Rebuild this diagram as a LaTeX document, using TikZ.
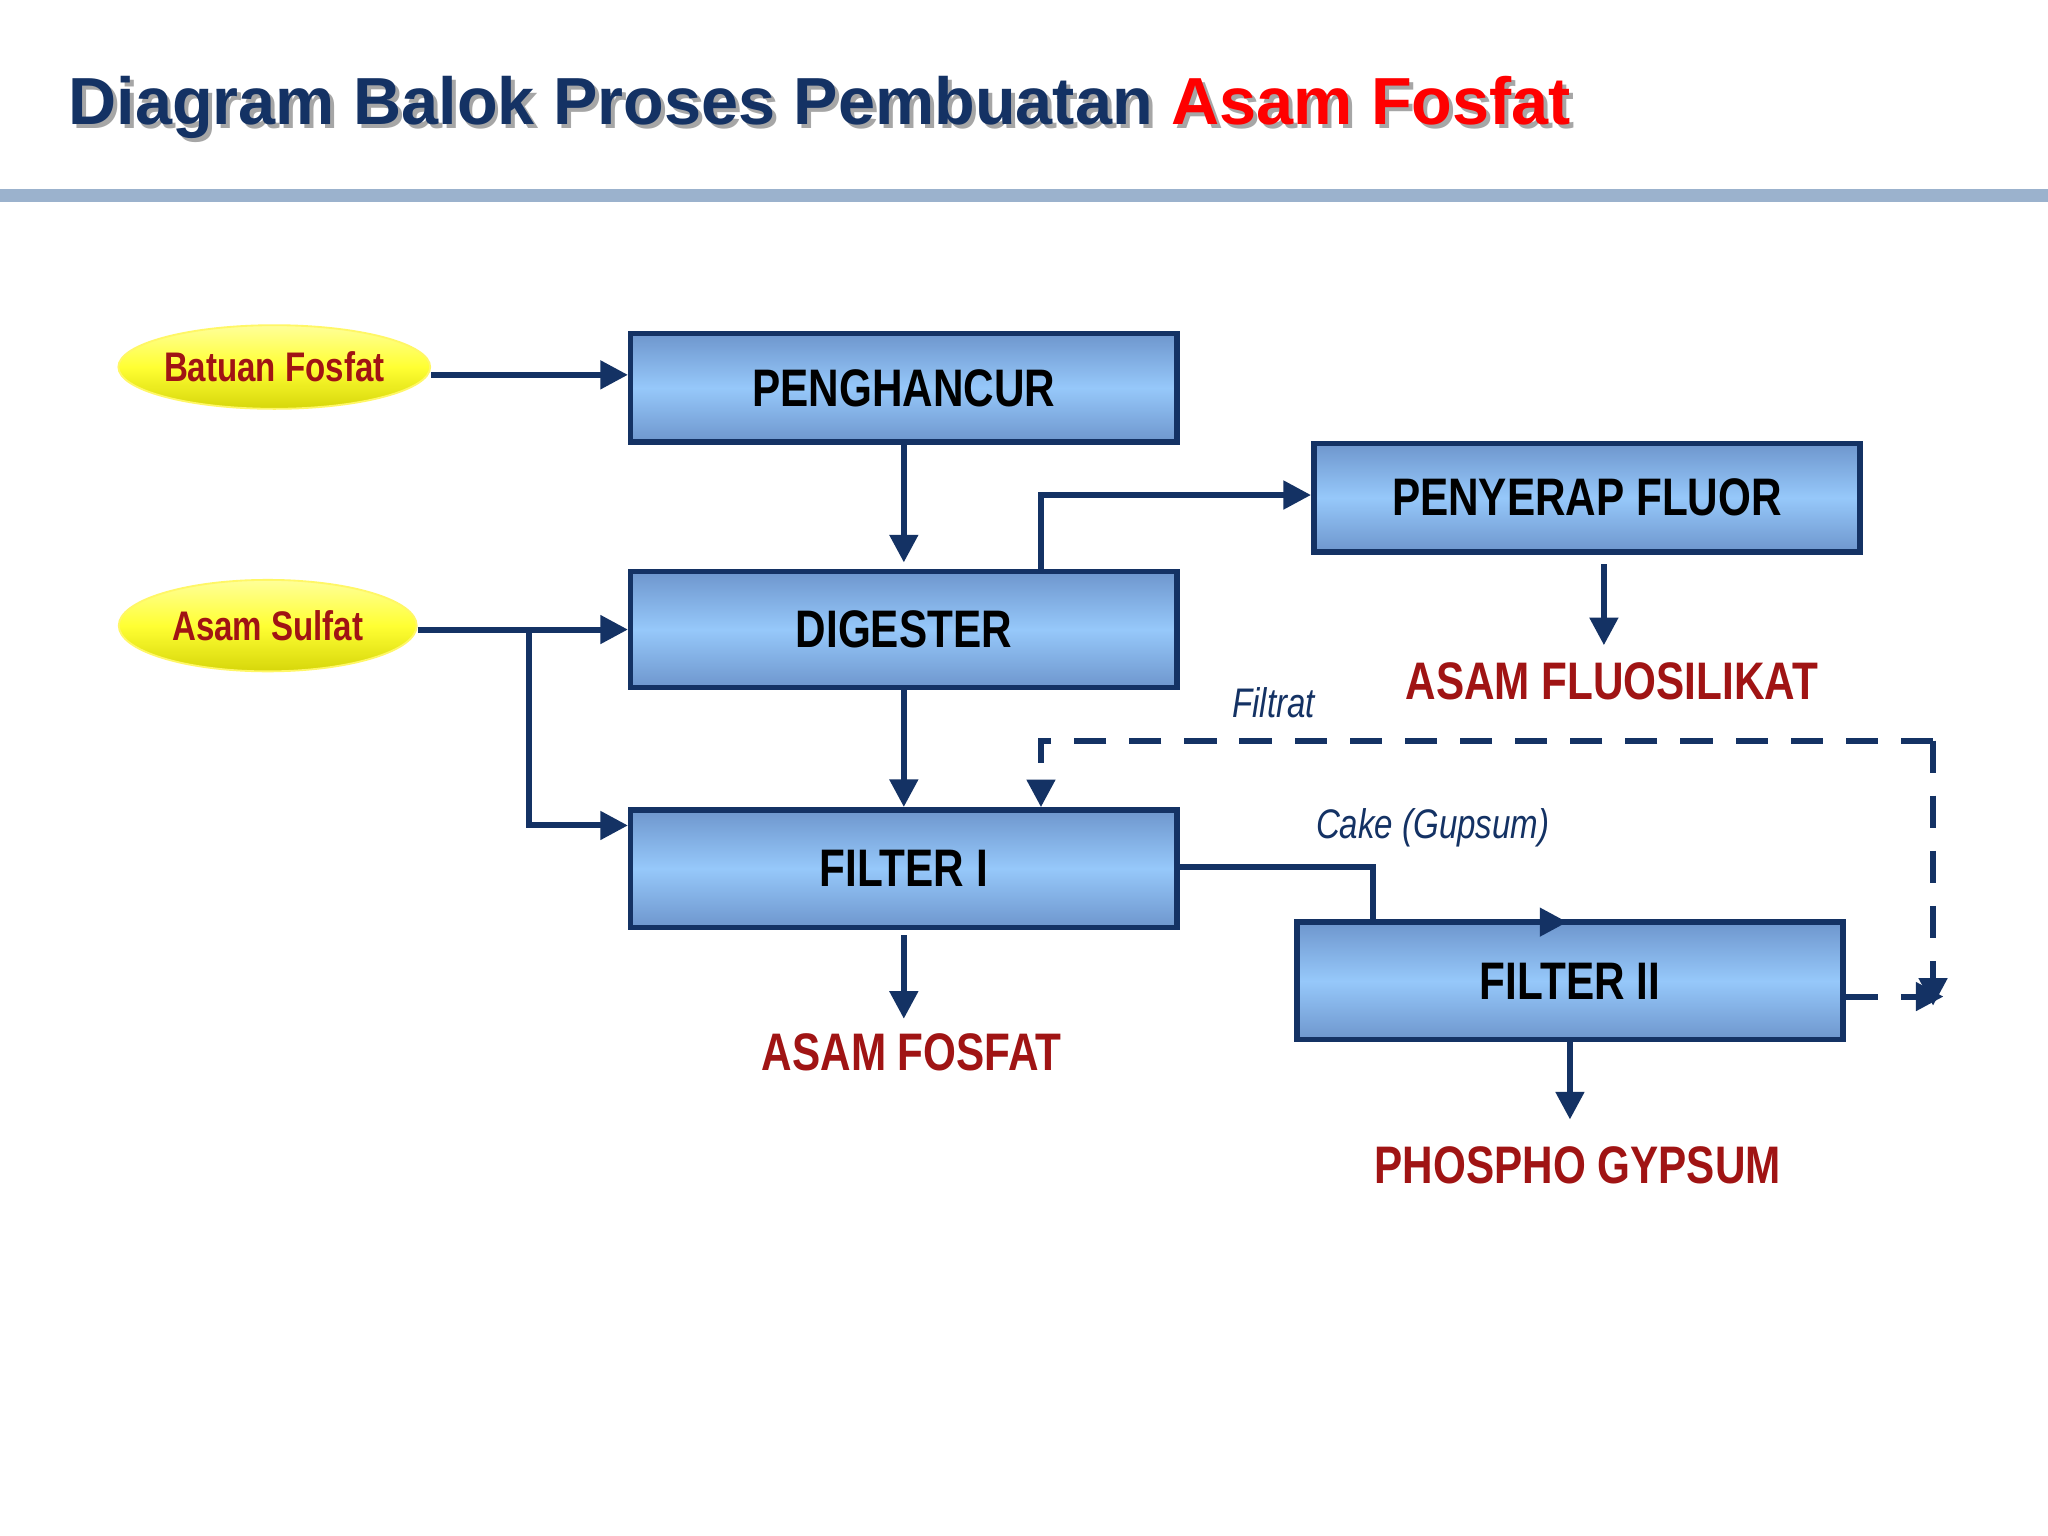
\documentclass[tikz,border=0pt]{standalone}
\usepackage{fontspec}
\setmainfont{Liberation Sans}
\newfontfamily\narrow{Liberation Sans}[FakeStretch=0.8]
\usetikzlibrary{arrows.meta,shapes.geometric,shadows}
\definecolor{navy}{RGB}{20,50,100}
\definecolor{dred}{RGB}{160,20,20}
\definecolor{bl1}{RGB}{110,150,205}
\definecolor{bl2}{RGB}{150,200,250}
\definecolor{rulec}{RGB}{155,178,205}
\begin{document}
\begin{tikzpicture}[x=0.01cm,y=-0.01cm,
 box/.style={draw=navy,line width=1.2pt,top color=bl1,bottom color=bl1,middle color=bl2,inner sep=0pt,font=\narrow\bfseries\fontsize{11.5}{12}\selectfont,text=black},
 ell/.style={ellipse,draw=yellow!60!white,inner sep=0pt,top color=yellow!40!white,bottom color=yellow!60!olive!80!white,middle color=yellow!80!white,font=\narrow\bfseries\fontsize{9}{10}\selectfont,text=dred},
 arr/.style={navy,line width=1.3pt,-{Triangle[length=6pt,width=6pt]}},
 dsh/.style={navy,line width=1.3pt,dash pattern=on 7pt off 5pt},
 prod/.style={font=\narrow\bfseries\fontsize{11.5}{12}\selectfont,text=dred},
 lab/.style={font=\narrow\itshape\fontsize{9}{10}\selectfont,text=navy},
 ttl/.style={anchor=west,font=\bfseries\fontsize{14.5}{16}\selectfont}]
\useasboundingbox (0,0) rectangle (1568,1176);
\fill[white] (0,0) rectangle (1568,1176);
\node[ttl,text=gray!70] (ts) at (43,85) {Diagram Balok Proses Pembuatan Asam Fosfat};
\node[ttl] (t) at (40,82) {\textcolor{navy}{Diagram Balok Proses Pembuatan} \textcolor{red}{Asam Fosfat}};
\fill[rulec] (0,145) rectangle (1568,155);
\node[ell,minimum width=2.36cm,minimum height=0.64cm] (bf) at (210,281) {Batuan Fosfat};
\node[ell,minimum width=2.28cm,minimum height=0.70cm] (as) at (205,479) {Asam Sulfat};
\node[box,minimum width=4.18cm,minimum height=0.83cm] (p) at (692,297) {PENGHANCUR};
\node[box,minimum width=4.18cm,minimum height=0.89cm] (d) at (692,482) {DIGESTER};
\node[box,minimum width=4.18cm,minimum height=0.90cm] (f1) at (692,665) {FILTER I};
\node[box,minimum width=4.18cm,minimum height=0.83cm] (pf) at (1215,381) {PENYERAP FLUOR};
\node[box,minimum width=4.18cm,minimum height=0.90cm] (f2) at (1202,751) {FILTER II};
\node[prod] (afs) at (1234,522) {ASAM FLUOSILIKAT};
\node[prod] (af) at (698,806) {ASAM FOSFAT};
\node[prod] (pg) at (1208,892) {PHOSPHO GYPSUM};
\node[lab] (fl) at (975,538) {Filtrat};
\node[lab] (ck) at (1097,634) {Cake (Gupsum)};
\draw[arr] (bf.east |- 0,287) -- (p.west |- 0,287);
\draw[arr] (p.south) -- ++(0,90);
\draw[arr] (797,438) |- (pf.west |- 0,379);
\draw[arr] (1228,432) -- (1228,494);
\draw[arr] (as.east |- 0,482) -- (d.west |- 0,482);
\draw[arr] (405,482) |- (f1.west |- 0,632);
\draw[arr] (d.south) -- (f1.north);
\draw[arr] (692,716) -- (692,780);
\draw[navy,line width=1.3pt] (f1.east |- 0,664) -| (1051,706);
\draw[arr] (1049,706) -- (1200,706);
\draw[arr] (f2.south) -- ++(0,59);
\coordinate (c1) at (1480,567);
\draw[dsh] (c1) -- (797,567) -- (797,600);
\draw[arr] (797,600) -- (797,618);
\draw[dsh] (c1) -- (1480,752);
\draw[arr] (1480,752) -- (1480,770);
\draw[dsh] (f2.east |- 0,763) -- (1470,763);
\draw[arr] (1470,763) -- (1488,763);
\end{tikzpicture}
\end{document}
